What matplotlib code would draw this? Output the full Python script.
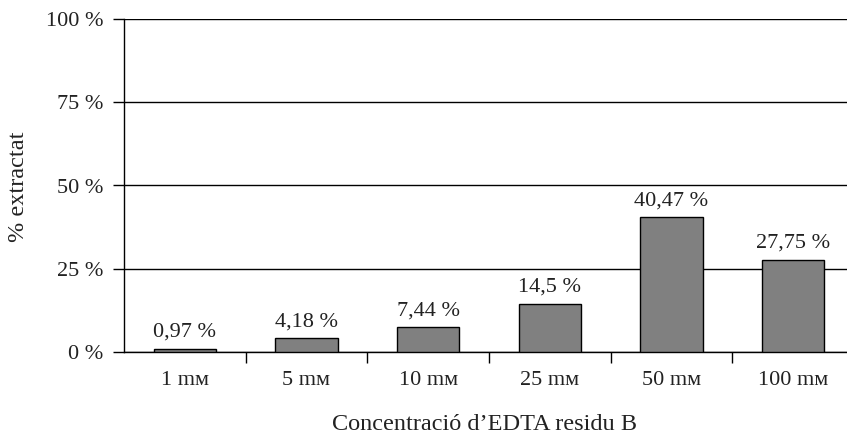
import matplotlib
matplotlib.use("Agg")
import matplotlib.pyplot as plt
from matplotlib.ticker import FixedLocator

categories = ["1 mᴍ", "5 mᴍ", "10 mᴍ", "25 mᴍ", "50 mᴍ", "100 mᴍ"]
values = [0.97, 4.18, 7.44, 14.5, 40.47, 27.75]
value_labels = ["0,97 %", "4,18 %", "7,44 %", "14,5 %", "40,47 %", "27,75 %"]
yticks = [0, 25, 50, 75, 100]
ytick_labels = ["0 %", "25 %", "50 %", "75 %", "100 %"]

fam = ["Liberation Serif", "DejaVu Serif"]
plt.rcParams["font.family"] = fam

fig = plt.figure(figsize=(8.47, 4.36), dpi=100)
W, H = 847, 436
left, right, top, bottom = 124, 854, 19, 352
ax = fig.add_axes([left / W, 1 - bottom / H, (right - left) / W, (bottom - top) / H])

x = list(range(len(categories)))
ax.bar(x, values, width=0.51, color="#808080", edgecolor="black", linewidth=1, zorder=3)
for xi, v, lab in zip(x, values, value_labels):
    ax.annotate(lab, (xi, v), xytext=(0, 5), textcoords="offset points",
                ha="center", va="bottom", fontsize=16, color="#222222")

ax.set_xlim(-0.5, len(categories) - 0.5)
ax.set_ylim(0, 100)
ax.set_yticks(yticks)
ax.set_yticklabels(ytick_labels, fontsize=16, color="#222222")
ax.yaxis.grid(True, color="black", linewidth=1)
ax.set_axisbelow(True)

ax.set_xticks(x)
ax.set_xticklabels(categories, fontsize=16, color="#222222")
ax.xaxis.set_minor_locator(FixedLocator([i + 0.5 for i in range(len(categories) - 1)]))
ax.tick_params(axis="x", which="major", length=0, pad=14)
ax.tick_params(axis="x", which="minor", length=8, width=1, direction="out")
ax.tick_params(axis="y", length=8, width=1, direction="out", pad=7)

for s in ["top", "right"]:
    ax.spines[s].set_visible(False)
ax.spines["left"].set_linewidth(1)
ax.spines["bottom"].set_linewidth(1)

fig.text(19 / W, 1 - 187 / H, "% extractat", rotation=90, ha="center", va="center",
         fontsize=17.5, color="#222222")
fig.text(484 / W, 1 - 424 / H, "Concentració d\u2019EDTA residu B", ha="center", va="center",
         fontsize=17.5, color="#222222")

fig.savefig("out.png", dpi=100)
